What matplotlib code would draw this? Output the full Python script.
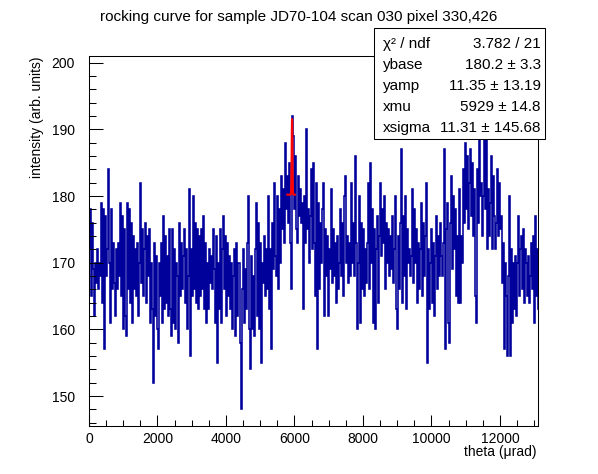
import numpy as np
import matplotlib
matplotlib.use('Agg')
import matplotlib.pyplot as plt
from matplotlib.patches import Rectangle
from matplotlib.ticker import MultipleLocator

plt.rcParams['font.family'] = ['Liberation Sans', 'DejaVu Sans']

title = "rocking curve for sample JD70-104 scan 030 pixel 330,426"
xlabel = "theta (\u03bcrad)"
ylabel = "intensity (arb. units)"

theta_step = 29.2  # bin width in urad

counts_a = [172, 178, 165, 176, 169, 162, 170, 167, 172, 166, 170, 168, 179, 164, 178, 157, 177, 168, 172, 184,
            170, 161, 178, 166, 173, 167, 162, 172, 166, 173, 168, 179, 165, 177, 160, 175, 162, 159, 179, 166,
            178, 164, 176, 161, 174, 166, 172, 165, 173, 162, 170, 182, 167, 175, 165, 172, 176, 164, 174, 168,
            175, 161, 170, 163, 152, 173, 162, 171, 160, 157, 170, 165, 173, 161, 177, 163]
counts_b = [174, 164, 171, 162, 175, 163, 159, 175, 161, 172, 160, 170, 168, 158, 176, 165, 173, 166, 171, 175,
            164, 172, 160, 168, 181, 156, 172, 165, 180, 166, 176, 164, 175, 163, 174, 165, 175, 166, 177, 163,
            173, 161, 170, 163, 172, 167, 171, 166, 175, 169, 161, 174, 155, 170, 163, 175, 161, 172, 177, 166,
            174, 162, 173, 165, 171, 163, 170, 160, 168, 172, 159, 173, 162, 170]
counts_c = [170, 158, 148, 166, 172, 161, 169, 163, 173, 180, 160, 154, 171, 160, 168, 159, 172, 179, 162, 176,
            160, 173, 155, 170, 167, 174, 165, 172, 166, 180, 163, 172, 157, 176, 169, 182, 171, 168, 180, 166,
            178, 170, 183, 175, 181, 173, 188, 178, 183, 176, 185, 173, 166, 192, 189, 178, 186, 175, 173, 183,
            177, 181, 176, 179, 163, 180, 173, 190, 175, 178, 170, 177, 184, 172]
counts_d = [185, 173, 165, 182, 157, 179, 166, 176, 170, 178, 182, 162, 175, 168, 174, 162, 172, 169, 181, 167,
            175, 168, 173, 164, 174, 166, 170, 178, 168, 176, 165, 180, 183, 170, 174, 167, 173, 168, 182, 170,
            176, 168, 186, 173, 160, 170, 180, 161, 176, 166, 175, 165, 172, 167, 173, 182, 166, 185, 170, 178,
            161, 175, 160, 172, 177, 164, 174, 182, 171, 178, 173]
counts_e = [180, 166, 176, 170, 175, 168, 174, 169, 177, 167, 172, 180, 163, 160, 174, 166, 176, 187, 164, 177,
            168, 180, 163, 175, 170, 172, 168, 171, 181, 167, 178, 170, 175, 164, 173, 166, 172, 179, 165, 176,
            168, 174, 182, 155, 172, 163, 170, 175, 164, 173, 162, 171, 177, 166, 174, 168, 176, 171, 168, 173,
            187, 157, 175, 179, 161, 158, 176, 183, 169, 180, 172, 178, 165, 174, 164]
counts_f = [181, 164, 174, 170, 184, 176, 188, 178, 186, 175, 182, 187, 177, 185, 174, 181, 165, 161, 184, 176,
            189, 180, 182, 174, 180, 189, 178, 189, 172, 181, 174, 179, 186, 172, 183, 177, 172, 176, 184, 174,
            182, 175, 177, 167, 173, 157, 170, 165, 156, 168, 180, 156, 172, 161, 170, 163, 171, 162, 170, 177,
            165, 172, 174, 166, 175, 164, 172, 170, 165, 171, 164, 168, 173, 166, 174, 161, 177, 165, 172, 163,
            170]
counts = counts_a + counts_b + counts_c + counts_d + counts_e + counts_f

stat_names = ["\u03c7\u00b2 / ndf", "ybase", "yamp", "xmu", "xsigma"]
stat_values = ["3.782 / 21", "180.2 \u00b1 3.3", "11.35 \u00b1 13.19", "5929 \u00b1 14.8", "11.31 \u00b1 145.68"]
ybase, yamp, xmu, xsigma = 180.2, 11.35, 5929.0, 11.31
fit_lo, fit_hi = 5790.0, 6015.0

W, H = 598, 474
fig = plt.figure(figsize=(W / 100, H / 100), dpi=100)
ax = fig.add_axes([89 / W, 1 - 426 / H, (538 - 89) / W, (426 - 56) / H])

edges = np.arange(len(counts) + 1) * theta_step
ax.stairs(counts, edges, color='#00009b', lw=1.15, baseline=None)

xf = np.linspace(fit_lo, fit_hi, 100)
yf = ybase + yamp * np.exp(-0.5 * ((xf - xmu) / xsigma) ** 2)
ax.plot(xf, yf, color='#ff0000', lw=1.5)

ax.set_xlim(0, 13110)
ax.set_ylim(145.5, 201.0)
ax.xaxis.set_major_locator(MultipleLocator(2000))
ax.xaxis.set_minor_locator(MultipleLocator(500))
ax.yaxis.set_major_locator(MultipleLocator(10))
ax.yaxis.set_minor_locator(MultipleLocator(2))
ax.tick_params(which='both', direction='in', top=False, right=False, width=0.75, labelsize=10)
ax.tick_params(axis='x', which='major', length=8, pad=4)
ax.tick_params(axis='x', which='minor', length=4)
ax.tick_params(axis='y', which='major', length=10, pad=10)
ax.tick_params(axis='y', which='minor', length=5)
for s in ax.spines.values():
    s.set_linewidth(0.75)

fig.text(299 / W, 1 - 17 / H, title, ha='center', va='center', fontsize=11)
fig.text(37 / W, 1 - 56 / H, ylabel, rotation=90, ha='center', va='top', fontsize=10)
fig.text(536 / W, 1 - 452 / H, xlabel, ha='right', va='center', fontsize=10)

bx0, by0, bx1, by1 = 374, 28, 545, 139
fig.add_artist(Rectangle((bx0 / W, 1 - by1 / H), (bx1 - bx0) / W, (by1 - by0) / H,
                         transform=fig.transFigure, facecolor='white', edgecolor='black',
                         lw=0.75, zorder=5))
row_y = [44, 65, 86, 107, 128]
for name, val, yy in zip(stat_names, stat_values, row_y):
    fig.text(383 / W, 1 - yy / H, name, ha='left', va='center', fontsize=11, zorder=6)
    fig.text(541 / W, 1 - yy / H, val, ha='right', va='center', fontsize=11, zorder=6)

fig.savefig('out.png', dpi=100)
